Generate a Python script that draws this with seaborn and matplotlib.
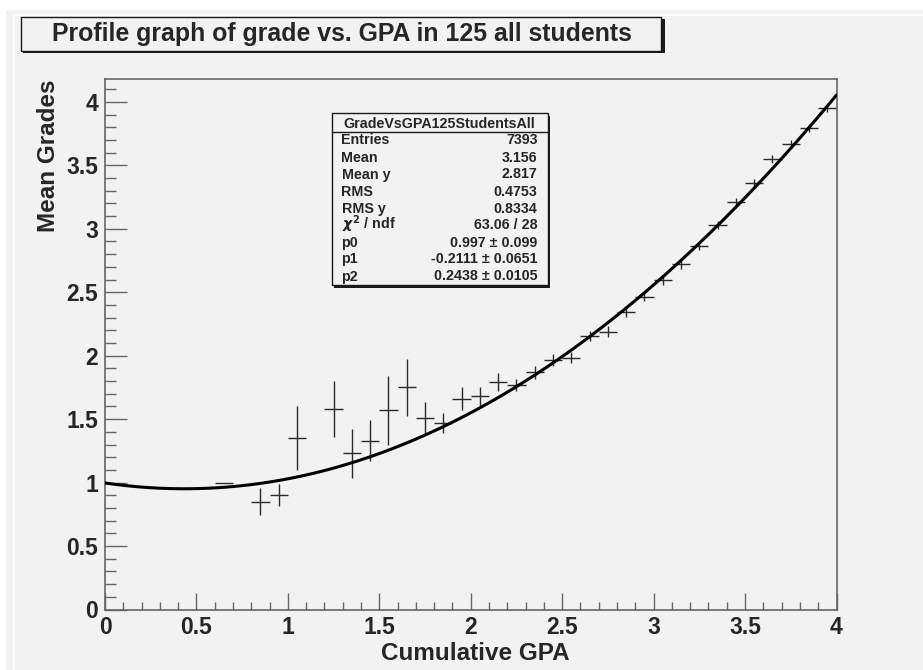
"""
Profile graph of mean grade vs. cumulative GPA (ROOT style look).
"""

import numpy as np
import matplotlib
matplotlib.use("Agg")
import matplotlib.pyplot as plt
from matplotlib.patches import Rectangle
from matplotlib.ticker import MultipleLocator
import seaborn as sns

# Profile bins (GPA bin centres) and mean grade in each bin
gpa_bins = [0.65, 0.85, 0.95, 1.05, 1.25, 1.35, 1.45, 1.55, 1.65, 1.75,
            1.85, 1.95, 2.05, 2.15, 2.25, 2.35, 2.45, 2.55, 2.65, 2.75,
            2.85, 2.95, 3.05, 3.15, 3.25, 3.35, 3.45, 3.55, 3.65, 3.75,
            3.85, 3.95]
mean_grades = [1.00, 0.85, 0.90, 1.35, 1.58, 1.23, 1.33, 1.57, 1.75, 1.51,
               1.47, 1.66, 1.68, 1.79, 1.77, 1.87, 1.965, 1.985, 2.155, 2.19,
               2.345, 2.465, 2.595, 2.72, 2.865, 3.03, 3.21, 3.36, 3.55, 3.67,
               3.795, 3.95]
grade_errors = [0.0, 0.107, 0.088, 0.25, 0.223, 0.193, 0.16, 0.272, 0.225, 0.125,
                0.082, 0.092, 0.075, 0.072, 0.05, 0.05, 0.047, 0.04, 0.04, 0.04,
                0.04, 0.035, 0.035, 0.035, 0.03, 0.03, 0.03, 0.03, 0.035, 0.03,
                0.03, 0.03]
bin_half_width = 0.05

# Fit parameters (pol2) from the stats box
fit_params = [0.997, -0.2111, 0.2438]

# Stats box content
stats_title = "GradeVsGPA125StudentsAll"
stats_names = ["Entries", "Mean", "Mean y", "RMS", "RMS y",
               r"$\chi^{2}$ / ndf", "p0", "p1", "p2"]
stats_values = ["7393", "3.156", "2.817", "0.4753", "0.8334", "63.06 / 28",
                "0.997 ± 0.099", "-0.2111 ± 0.0651", "0.2438 ± 0.0105"]

sns.set_theme(style="ticks")
plt.rcParams["font.family"] = ["Liberation Sans", "DejaVu Sans"]
plt.rcParams["font.weight"] = "bold"
plt.rcParams["mathtext.default"] = "it"

W, H = 923, 670
BG = "#f2f2f2"


def fx(x):
    return x / W


def fy(y):
    return 1 - y / H


fig = plt.figure(figsize=(W / 100, H / 100), dpi=100, facecolor="white")

# Canvas background and inner white frame line (behind the axes)
fig.patches.append(Rectangle((fx(6), 0), 1, fy(10), transform=fig.transFigure,
                             facecolor=BG, edgecolor="none", zorder=-2))
fig.patches.append(Rectangle((fx(13.5), -0.1), 1, fy(14.5) + 0.1,
                             transform=fig.transFigure, facecolor="none",
                             edgecolor="white", lw=1.2, zorder=-1))

ax = fig.add_axes([fx(105), fy(609.5), fx(836.5) - fx(105), fy(79) - fy(609.5)])
ax.set_facecolor(BG)

# Profile points with error bars
ax.errorbar(gpa_bins, mean_grades, xerr=bin_half_width, yerr=grade_errors,
            fmt="none", ecolor="#2a2a2a", elinewidth=1.0, capsize=0, zorder=2)

# Fitted pol2 curve
fit_x = np.linspace(0, 4, 200)
fit_y = np.polyval(fit_params[::-1], fit_x)
sns.lineplot(x=fit_x, y=fit_y, color="black", linewidth=2.2, ax=ax, zorder=3)

ax.set_xlim(0, 4)
ax.set_ylim(0, 4.18)
ax.xaxis.set_major_locator(MultipleLocator(0.5))
ax.xaxis.set_minor_locator(MultipleLocator(0.1))
ax.yaxis.set_major_locator(MultipleLocator(0.5))
ax.yaxis.set_minor_locator(MultipleLocator(0.1))
ax.xaxis.set_major_formatter(plt.FuncFormatter(lambda v, p: f"{v:g}"))
ax.yaxis.set_major_formatter(plt.FuncFormatter(lambda v, p: f"{v:g}"))

ax.tick_params(axis="x", which="major", direction="in", length=12, width=1,
               color="#666666", pad=5, labelsize=16.5)
ax.tick_params(axis="x", which="minor", direction="in", length=6, width=1,
               color="#666666")
ax.tick_params(axis="y", which="major", direction="in", length=16, width=1,
               color="#666666", pad=5, labelsize=16.5)
ax.tick_params(axis="y", which="minor", direction="in", length=8, width=1,
               color="#666666")
for lbl in ax.get_xticklabels() + ax.get_yticklabels():
    lbl.set_fontweight("bold")

for side in ["top", "right", "bottom", "left"]:
    ax.spines[side].set_visible(True)
    ax.spines[side].set_color("#666666")
    ax.spines[side].set_linewidth(1.2)

ax.set_xlabel("Cumulative GPA", fontsize=17.5, fontweight="bold")
ax.set_ylabel("Mean Grades", fontsize=17.5, fontweight="bold", loc="top")
ax.xaxis.set_label_coords(0.506, -0.062)
ax.yaxis.set_label_coords(-0.0615, 1.0)
ax.xaxis.label.set_verticalalignment("top")

# Title box with shadow
fig.patches.append(Rectangle((fx(23), fy(53)), fx(663) - fx(21), fy(17) - fy(51),
                             transform=fig.transFigure, facecolor="#1a1a1a",
                             edgecolor="none", zorder=1))
fig.patches.append(Rectangle((fx(21), fy(51)), fx(661) - fx(21), fy(17) - fy(51),
                             transform=fig.transFigure, facecolor=BG,
                             edgecolor="#1a1a1a", lw=1, zorder=2))
fig.text(fx(341.5), fy(41.5), "Profile graph of grade vs. GPA in 125 all students",
         ha="center", va="baseline", fontsize=17.9, fontweight="bold", zorder=3)

# Stats box with shadow
box_l, box_t, box_r, box_b = 331.5, 113.5, 547.5, 285
fig.patches.append(Rectangle((fx(box_l + 2.5), fy(box_b + 2.5)),
                             fx(box_r) - fx(box_l), fy(box_t) - fy(box_b),
                             transform=fig.transFigure, facecolor="#1a1a1a",
                             edgecolor="none", zorder=4))
fig.patches.append(Rectangle((fx(box_l), fy(box_b)),
                             fx(box_r) - fx(box_l), fy(box_t) - fy(box_b),
                             transform=fig.transFigure, facecolor=BG,
                             edgecolor="#1a1a1a", lw=1, zorder=5))
fig.lines.append(plt.Line2D([fx(box_l), fx(box_r)], [fy(131.7), fy(131.7)],
                            transform=fig.transFigure, color="#1a1a1a", lw=1,
                            zorder=6))
fig.text(fx((box_l + box_r) / 2), fy(127.5), stats_title, ha="center",
         va="baseline", fontsize=10.3, fontweight="bold", zorder=7)
for i, (name, value) in enumerate(zip(stats_names, stats_values)):
    row_y = fy(144.5 + i * 17.0)
    fig.text(fx(341.5), row_y, name, ha="left", va="baseline", fontsize=10.3,
             fontweight="bold", zorder=7)
    fig.text(fx(537.5), row_y, value, ha="right", va="baseline", fontsize=10.3,
             fontweight="bold", zorder=7)

fig.savefig("out.png", dpi=100, facecolor="white")
plt.close(fig)
